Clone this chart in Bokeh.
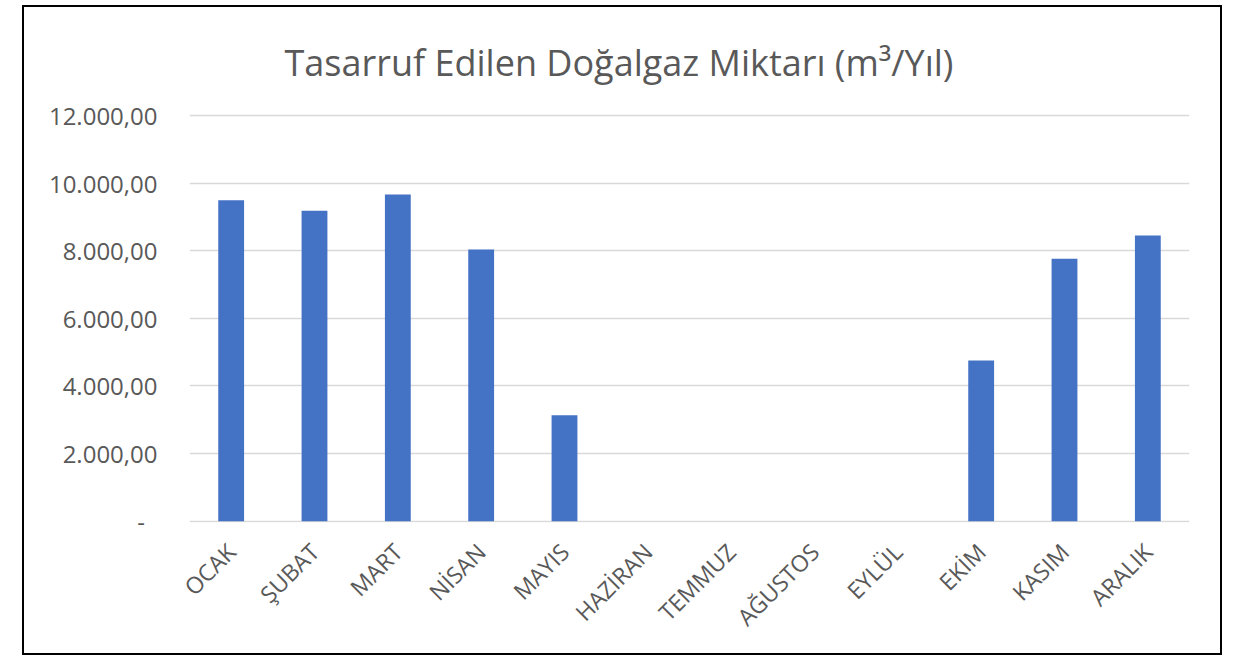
import math
from bokeh.plotting import figure
from bokeh.models import FactorRange, Range1d, FixedTicker
from bokeh.embed import file_html
from bokeh.resources import INLINE

title_text = "Tasarruf Edilen Doğalgaz Miktarı (m³/Yıl)"
months = ["OCAK", "ŞUBAT", "MART", "NİSAN", "MAYIS", "HAZİRAN",
          "TEMMUZ", "AĞUSTOS", "EYLÜL", "EKİM", "KASIM", "ARALIK"]
values = [9490, 9180, 9660, 8040, 3130, 0, 0, 0, 0, 4750, 7760, 8450]
y_ticks = [0, 2000, 4000, 6000, 8000, 10000, 12000]
y_tick_labels = ["-\u00a0\u00a0", "2.000,00", "4.000,00", "6.000,00",
                 "8.000,00", "10.000,00", "12.000,00"]

FONT = "Open Sans"
TXT = "#595959"

p = figure(width=1196, height=646, output_backend="svg", toolbar_location=None,
           x_range=FactorRange(factors=months, range_padding=0),
           y_range=Range1d(-40, 12060),
           min_border_left=165, min_border_right=31,
           min_border_top=106, min_border_bottom=131)
p.styles = {"outline": "2px solid black", "margin": "7px 0px 0px 24px"}

p.title.text = title_text
p.title.text_font = FONT
p.title.text_font_size = "36px"
p.title.text_font_style = "normal"
p.title.text_color = TXT
p.title.align = "left"
p.title.offset = 95
p.title.standoff = 54

p.vbar(x=months, top=values, width=0.31, fill_color="#4472C4", line_color=None)

p.outline_line_color = None
p.xgrid.grid_line_color = None
p.ygrid.grid_line_color = "#D9D9D9"
p.ygrid.grid_line_width = 1.5

p.yaxis.ticker = FixedTicker(ticks=y_ticks)
p.yaxis.major_label_overrides = {t: l for t, l in zip(y_ticks, y_tick_labels)}
p.yaxis.minor_tick_line_color = None

for ax in (p.xaxis[0], p.yaxis[0]):
    ax.axis_line_color = None
    ax.major_tick_line_color = None
    ax.major_label_text_font = FONT
    ax.major_label_text_color = TXT

p.yaxis.major_label_text_font_size = "24px"
p.xaxis.major_label_text_font_size = "23px"
p.yaxis.major_label_standoff = 26
p.xaxis.major_label_orientation = math.pi / 4
p.xaxis.major_label_standoff = 19

open("out.html", "w").write(file_html(p, INLINE))
